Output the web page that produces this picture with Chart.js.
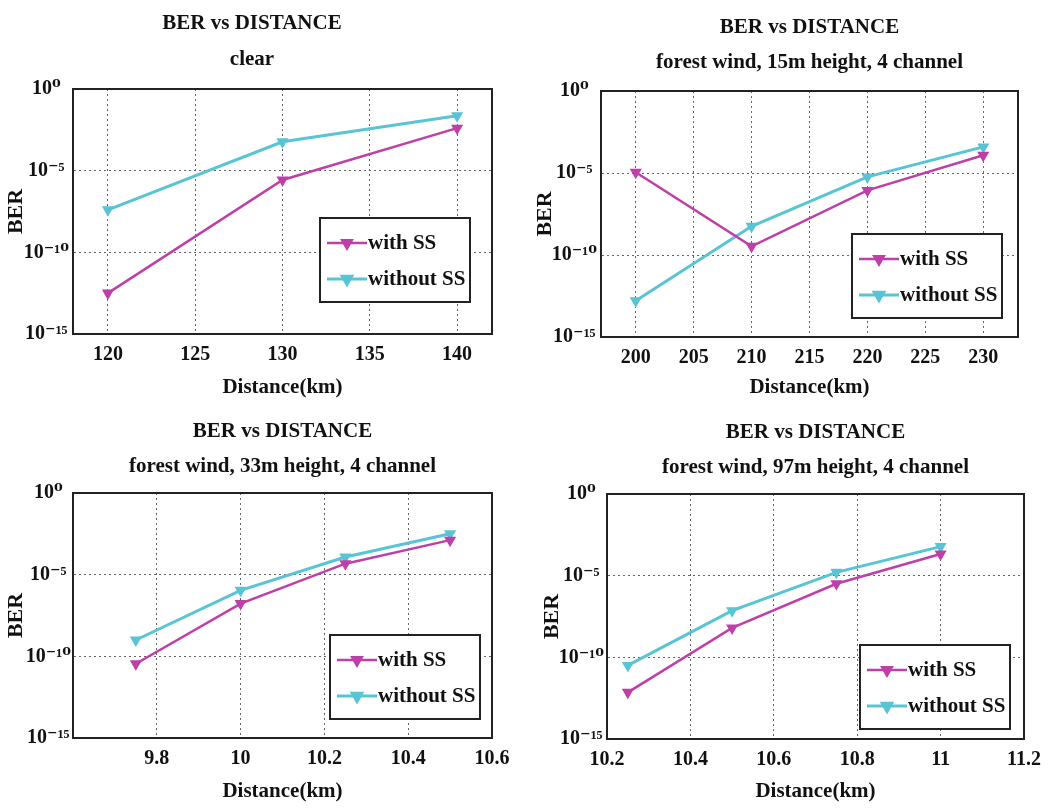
<!DOCTYPE html>
<html>
<head>
<meta charset="utf-8">
<script src="https://cdn.jsdelivr.net/npm/chart.js@4.4.1/dist/chart.umd.min.js"></script>
<style>
  body { margin: 0; background: #fff; width: 1050px; height: 808px; overflow: hidden; }
  .panel { position: absolute; width: 525px; height: 404px; }
</style>
</head>
<body>
<div class="panel" style="left:0;top:0"><canvas id="c1" width="525" height="404"></canvas></div>
<div class="panel" style="left:525px;top:0"><canvas id="c2" width="525" height="404"></canvas></div>
<div class="panel" style="left:0;top:404px"><canvas id="c3" width="525" height="404"></canvas></div>
<div class="panel" style="left:525px;top:404px"><canvas id="c4" width="525" height="404"></canvas></div>
<script>
// data (BER values)
const dist1 = [120, 130, 140];
const withSS1 = [3.2e-13, 2.7e-6, 4.0e-3];
const withoutSS1 = [4.0e-8, 5.9e-4, 2.3e-2];
const xTicks1 = [120, 125, 130, 135, 140];

const dist2 = [200, 210, 220, 230];
const withSS2 = [1.1e-5, 3.4e-10, 8.7e-7, 1.2e-4];
const withoutSS2 = [1.6e-13, 5.6e-9, 5.8e-6, 3.9e-4];
const xTicks2 = [200, 205, 210, 215, 220, 225, 230];

const dist3 = [9.75, 10, 10.25, 10.5];
const withSS3 = [3.5e-11, 1.7e-7, 4.7e-5, 1.3e-3];
const withoutSS3 = [1.0e-9, 1.1e-6, 1.2e-4, 3.2e-3];
const xTicks3 = [9.8, 10, 10.2, 10.4, 10.6];

const dist4 = [10.25, 10.5, 10.75, 11];
const withSS4 = [7.2e-13, 6.3e-9, 3.2e-6, 2.1e-4];
const withoutSS4 = [3.2e-11, 7.2e-8, 1.6e-5, 6.0e-4];
const xTicks4 = [10.2, 10.4, 10.6, 10.8, 11, 11.2];

const yTicks = [1, 1e-5, 1e-10, 1e-15];
const yTickLabels = ["10⁰", "10⁻⁵", "10⁻¹⁰", "10⁻¹⁵"];

const titles = [
  ["BER vs DISTANCE", "clear"],
  ["BER vs DISTANCE", "forest wind, 15m height, 4 channel"],
  ["BER vs DISTANCE", "forest wind, 33m height, 4 channel"],
  ["BER vs DISTANCE", "forest wind, 97m height, 4 channel"]
];

const FONT = "'Liberation Serif', 'DejaVu Serif', serif";
const MAGENTA = "#bf3fa9";
const CYAN = "#58c4d4";

// frame round the plot area + legend box inside it
const boxLegend = {
  id: "boxLegend",
  afterDraw(chart, args, opts) {
    const ctx = chart.ctx, a = chart.chartArea;
    ctx.save();
    ctx.lineWidth = 2;
    ctx.strokeStyle = "#222";
    ctx.strokeRect(a.left, a.top, a.right - a.left, a.bottom - a.top);

    const w = 150, h = 84;
    const x0 = a.right - opts.right - w;
    const y0 = a.bottom - opts.bottom - h;
    ctx.fillStyle = "#fff";
    ctx.fillRect(x0, y0, w, h);
    ctx.strokeRect(x0, y0, w, h);

    ctx.font = "bold 21px " + FONT;
    ctx.textBaseline = "middle";
    chart.data.datasets.forEach((ds, i) => {
      const cy = y0 + 25 + i * 36;
      ctx.strokeStyle = ds.borderColor;
      ctx.lineWidth = ds.borderWidth;
      ctx.beginPath();
      ctx.moveTo(x0 + 7, cy);
      ctx.lineTo(x0 + 47, cy);
      ctx.stroke();
      ctx.fillStyle = ds.backgroundColor;
      Chart.helpers.drawPoint(ctx, {
        pointStyle: ds.pointStyle, rotation: ds.rotation,
        radius: ds.pointRadius, borderWidth: 1.5
      }, x0 + 27, cy);
      ctx.fillStyle = "#111";
      ctx.fillText(ds.label, x0 + 48, cy + 1);
    });
    ctx.restore();
  }
};

function series(label, xs, ys, color, width) {
  return {
    label: label,
    data: xs.map((x, i) => ({ x: x, y: ys[i] })),
    borderColor: color,
    backgroundColor: color,
    borderWidth: width,
    pointStyle: "triangle",
    rotation: 180,
    pointRadius: 5.5,
    pointBorderWidth: 1.5,
    tension: 0
  };
}

function makeChart(id, title, dist, s1, s2, xMin, xMax, xTicks, lay) {
  new Chart(document.getElementById(id), {
    type: "line",
    data: {
      datasets: [
        series("with SS", dist, s1, MAGENTA, 2.5),
        series("without SS", dist, s2, CYAN, 3)
      ]
    },
    options: {
      responsive: false,
      animation: false,
      layout: { padding: { left: lay.padL, right: lay.padR, top: 0, bottom: 0 } },
      plugins: {
        legend: { display: false },
        tooltip: { enabled: false },
        title: {
          display: true,
          text: title,
          fullSize: lay.full,
          color: "#111",
          font: { family: FONT, size: 21, weight: "bold", lineHeight: 1.7 },
          padding: { top: lay.tTop, bottom: lay.tBot }
        },
        boxLegend: { right: lay.legR, bottom: lay.legB }
      },
      scales: {
        x: {
          type: "linear",
          min: xMin,
          max: xMax,
          afterBuildTicks: s => { s.ticks = xTicks.map(v => ({ value: v })); },
          afterFit: s => { s.height = lay.xH; },
          grid: { color: "#666", lineWidth: 1, drawTicks: false },
          border: { color: "#222", width: 2, dash: [2, 3] },
          ticks: {
            color: "#111",
            padding: 9,
            maxRotation: 0,
            autoSkip: false,
            font: { family: FONT, size: 20, weight: "bold" },
            callback: v => String(Math.round(v * 100) / 100)
          },
          title: {
            display: true,
            text: "Distance(km)",
            color: "#111",
            font: { family: FONT, size: 21, weight: "bold" },
            padding: { top: 0, bottom: 4 }
          }
        },
        y: {
          type: "logarithmic",
          min: 1e-15,
          max: 1,
          afterBuildTicks: s => { s.ticks = yTicks.map(v => ({ value: v })); },
          afterFit: s => { s.width = lay.yW; },
          grid: { color: "#666", lineWidth: 1, drawTicks: false },
          border: { color: "#222", width: 2, dash: [2, 3] },
          ticks: {
            color: "#111",
            padding: lay.yTickPad,
            crossAlign: "center",
            font: { family: FONT, size: 20, weight: "bold" },
            callback: v => yTickLabels[yTicks.findIndex(t => Math.abs(Math.log10(t) - Math.log10(v)) < 0.01)]
          },
          title: {
            display: true,
            text: "BER",
            color: "#111",
            font: { family: FONT, size: 22, weight: "bold" },
            padding: { top: lay.yTitlePad, bottom: 0 }
          }
        }
      }
    },
    plugins: [boxLegend]
  });
}

makeChart("c1", titles[0], dist1, withSS1, withoutSS1, 118, 142, xTicks1,
  { padL: 12, padR: 33, yW: 61, xH: 70, tTop: 6, tBot: 11.6, full: true, yTitlePad: -9, yTickPad: 4, legR: 22, legB: 32 });
makeChart("c2", titles[1], dist2, withSS2, withoutSS2, 197, 233, xTicks2,
  { padL: 0, padR: 32, yW: 76, xH: 67, tTop: 9.5, tBot: 10.1, full: false, yTitlePad: 7, yTickPad: 4, legR: 16, legB: 19 });
makeChart("c3", titles[2], dist3, withSS3, withoutSS3, 9.6, 10.6, xTicks3,
  { padL: 0, padR: 33, yW: 73, xH: 70, tTop: 9.5, tBot: 8.1, full: false, yTitlePad: 3, yTickPad: 2, legR: 12, legB: 19 });
makeChart("c4", titles[3], dist4, withSS4, withoutSS4, 10.2, 11.2, xTicks4,
  { padL: 0, padR: 26, yW: 82, xH: 69, tTop: 10.5, tBot: 8.1, full: false, yTitlePad: 14, yTickPad: 3, legR: 14, legB: 10 });
</script>
</body>
</html>
